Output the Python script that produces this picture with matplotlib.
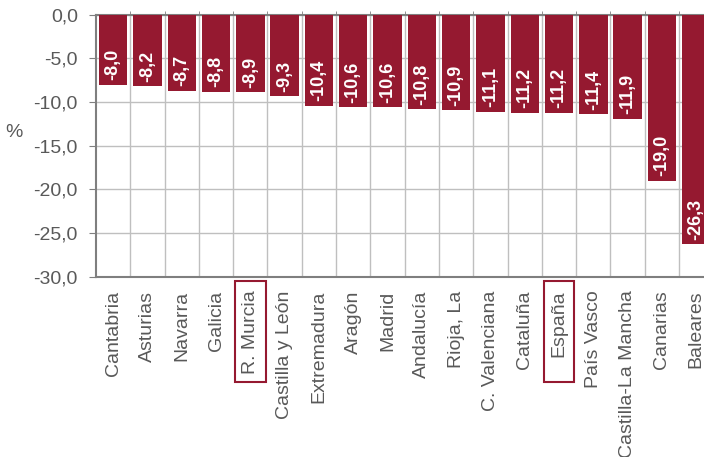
import matplotlib.pyplot as plt
import matplotlib.transforms as mtransforms
from matplotlib.patches import Rectangle
import numpy as np

plt.rcParams['font.family'] = ['Liberation Sans', 'DejaVu Sans']

regiones = ['Cantabria', 'Asturias', 'Navarra', 'Galicia', 'R. Murcia',
            'Castilla y León', 'Extremadura', 'Aragón', 'Madrid', 'Andalucía',
            'Rioja, La', 'C. Valenciana', 'Cataluña', 'España', 'País Vasco',
            'Castilla-La Mancha', 'Canarias', 'Baleares']
valores = [-8.0, -8.2, -8.7, -8.8, -8.9, -9.3, -10.4, -10.6, -10.6, -10.8,
           -10.9, -11.1, -11.2, -11.2, -11.4, -11.9, -19.0, -26.3]
destacadas = ['R. Murcia', 'España']
yticks = [0, -5, -10, -15, -20, -25, -30]

granate = '#951930'
gris_txt = '#595959'

fig = plt.figure(figsize=(7.04, 4.57), dpi=100)
# plot area runs past the right edge of the image, as in the original
ax = fig.add_axes([96 / 704, 180.3 / 457, 34.3 * len(regiones) / 704, 262 / 457])

x = np.arange(len(regiones))
ax.bar(x, valores, width=0.83, color=granate, zorder=3)

for xi, v in zip(x, valores):
    ax.text(xi, v + 0.5, f'{v:.1f}'.replace('.', ','), rotation=90,
            rotation_mode='anchor', ha='left', va='center',
            color='white', fontsize=13, fontweight='bold', zorder=4)

ax.set_xlim(-0.5, len(regiones) - 0.5)
ax.set_ylim(-30, 0)
ax.set_yticks(yticks)
ax.set_yticklabels([f'{t:.1f}'.replace('.', ',') for t in yticks])
ax.set_xticks(x)
ax.set_xticklabels(regiones, rotation=90)
ax.set_xticks(x[:-1] + 0.5, minor=True)

ax.tick_params(axis='y', labelsize=14, colors='#7F7F7F', labelcolor=gris_txt,
               length=5, pad=8)
ax.tick_params(axis='x', which='major', labelsize=14, labelcolor=gris_txt,
               length=0, pad=10)
ax.tick_params(axis='x', which='minor', top=True, bottom=False, length=3,
               direction='out', color='#7F7F7F')

ax.grid(axis='y', color='#BFBFBF', lw=1, zorder=0)
ax.grid(axis='x', which='minor', color='#BFBFBF', lw=1, zorder=0)

for s in ['left', 'top', 'bottom']:
    ax.spines[s].set_color('#7F7F7F')
    ax.spines[s].set_linewidth(1.5)
ax.spines['right'].set_visible(False)

fig.text(14 / 704, 1 - 132 / 457, '%', fontsize=14, color=gris_txt,
         ha='center', va='center')

# recuadros alrededor de R. Murcia y España
trans = mtransforms.blended_transform_factory(ax.transData, ax.transAxes)
for nombre in destacadas:
    i = regiones.index(nombre)
    ax.add_patch(Rectangle((i - 0.45, -0.402), 0.9, 0.386, transform=trans,
                           fill=False, edgecolor=granate, lw=1.5,
                           clip_on=False))

fig.savefig('out.png', dpi=100)
